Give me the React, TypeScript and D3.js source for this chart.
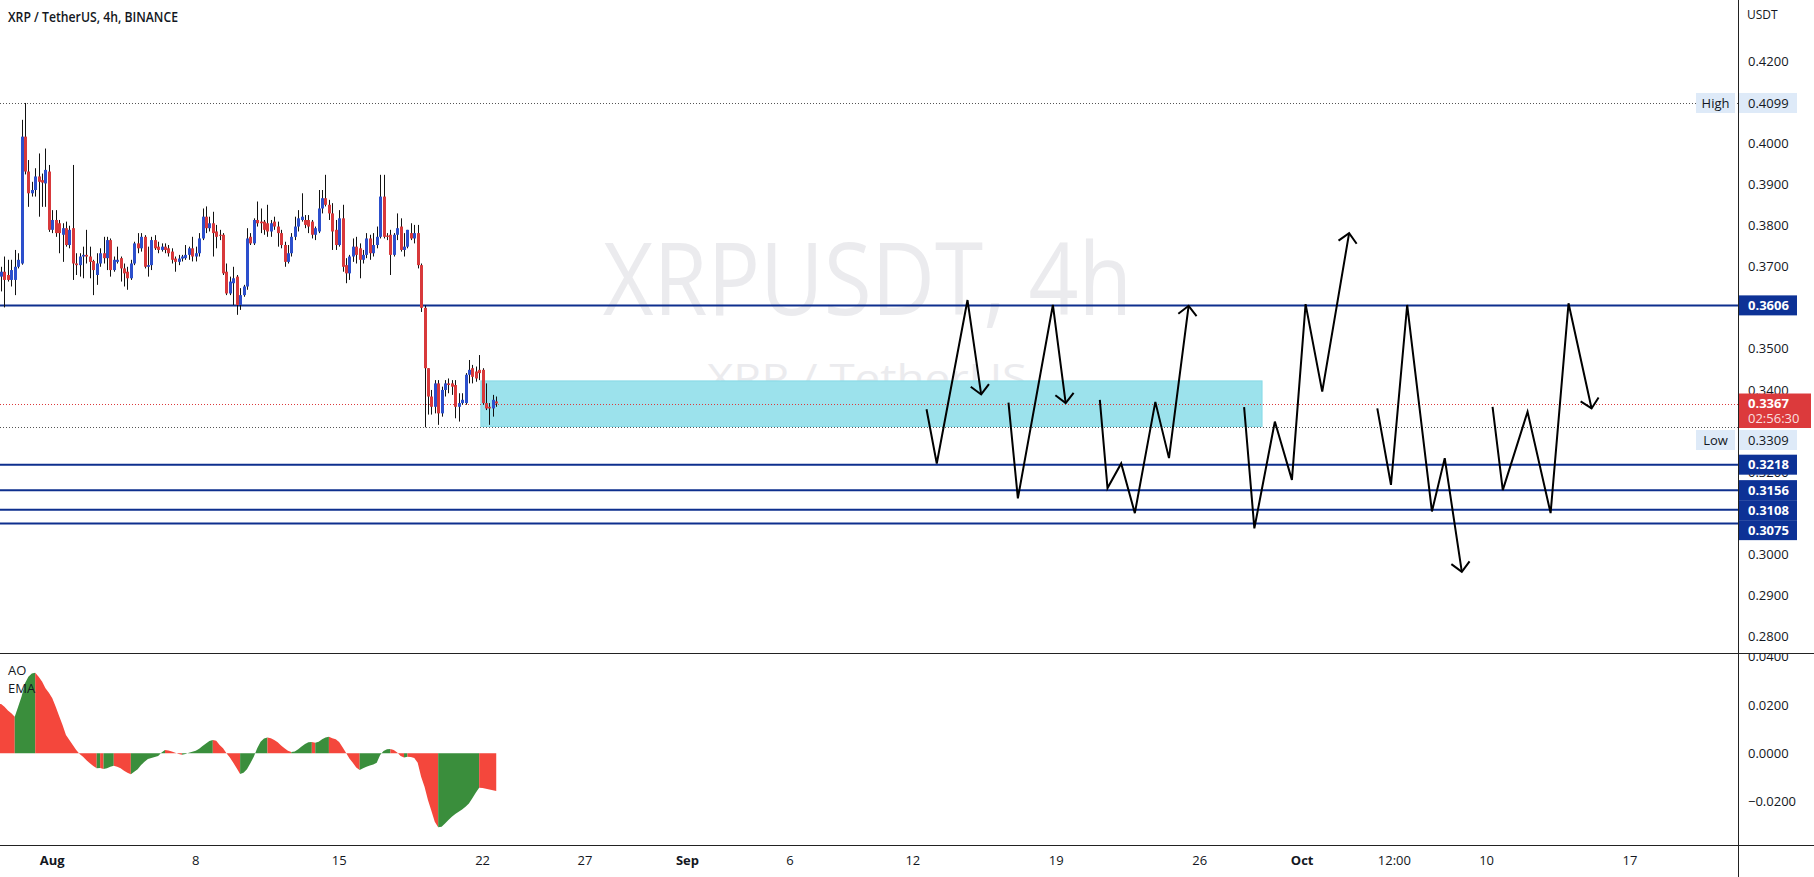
import * as d3 from 'd3';

const W = 1814;
const H = 877;
const AXIS_X = 1738;
const MAIN_BOTTOM = 653;
const AO_BOTTOM = 845;
const FONT = '"Open Sans", "Noto Sans", sans-serif';

const UP = '#2c4fcc';
const DOWN = '#d8393b';
const LEVEL = '#0e2f8e';
const LABEL_BLUE = '#0d3296';
const LAST_RED = '#dc3a3c';
const TAG_BG = '#deeaf8';
const AO_UP = '#3a8e3c';
const AO_DOWN = '#f4473c';
const TEXT = '#131722';

// 4h candles, first one opens 29 Jul 2022 12:00 UTC
const CANDLE_START = Date.UTC(2022, 6, 29, 12);
const CANDLE_STEP = 4 * 3600 * 1000;

// [open, high, low, close]
const candles: [number, number, number, number][] = [
  [0.3676, 0.37, 0.364, 0.3688], [0.3688, 0.3725, 0.3601, 0.3668], [0.368, 0.3717, 0.3664, 0.3668],
  [0.3668, 0.3717, 0.3652, 0.3692], [0.3668, 0.3741, 0.3631, 0.37], [0.37, 0.3733, 0.3696, 0.3717],
  [0.3708, 0.4058, 0.3705, 0.4017], [0.4017, 0.4099, 0.3925, 0.3932], [0.3932, 0.396, 0.3846, 0.3879],
  [0.3879, 0.3907, 0.3871, 0.3887], [0.3887, 0.394, 0.3871, 0.392], [0.392, 0.3976, 0.3822, 0.3907],
  [0.3911, 0.3927, 0.3846, 0.3905], [0.3903, 0.3988, 0.3846, 0.3936], [0.3932, 0.3948, 0.3785, 0.379],
  [0.379, 0.3838, 0.3782, 0.3814], [0.3814, 0.3838, 0.3773, 0.3782], [0.3806, 0.3814, 0.3733, 0.3782],
  [0.3778, 0.3806, 0.3712, 0.3794], [0.3794, 0.381, 0.3749, 0.3753], [0.3753, 0.38, 0.3745, 0.379],
  [0.3794, 0.3948, 0.3668, 0.3708], [0.3708, 0.3733, 0.368, 0.3704], [0.3704, 0.3733, 0.3676, 0.3725],
  [0.3725, 0.3749, 0.3672, 0.3729], [0.3729, 0.379, 0.3708, 0.3725], [0.3725, 0.3749, 0.3672, 0.3712],
  [0.3714, 0.3717, 0.3631, 0.3692], [0.368, 0.3733, 0.3656, 0.3708], [0.3708, 0.3745, 0.37, 0.3733],
  [0.3733, 0.3773, 0.3708, 0.3721], [0.3721, 0.3773, 0.3692, 0.3765], [0.3765, 0.3769, 0.3676, 0.3692],
  [0.3692, 0.3725, 0.3688, 0.3717], [0.3712, 0.3749, 0.3708, 0.3717], [0.3721, 0.3725, 0.3664, 0.3696],
  [0.3696, 0.3708, 0.3652, 0.3684], [0.3688, 0.37, 0.3644, 0.3672], [0.3672, 0.3717, 0.3668, 0.3708],
  [0.3708, 0.3761, 0.3704, 0.3757], [0.3757, 0.3782, 0.3733, 0.3745], [0.3745, 0.3782, 0.3737, 0.3773],
  [0.3773, 0.3777, 0.3696, 0.37], [0.37, 0.3749, 0.3676, 0.3704], [0.3704, 0.3773, 0.3692, 0.3765],
  [0.3765, 0.3777, 0.3741, 0.3745], [0.3749, 0.3761, 0.3733, 0.3741], [0.3741, 0.3757, 0.3737, 0.3749],
  [0.3749, 0.3757, 0.3733, 0.3741], [0.3745, 0.3753, 0.3725, 0.3733], [0.3737, 0.3745, 0.3708, 0.3717],
  [0.372, 0.3725, 0.3688, 0.3712], [0.3712, 0.3729, 0.3704, 0.372], [0.372, 0.3729, 0.3713, 0.3725],
  [0.3721, 0.3753, 0.3717, 0.3729], [0.3729, 0.3749, 0.3717, 0.3745], [0.3745, 0.3773, 0.3713, 0.3725],
  [0.3725, 0.3749, 0.3713, 0.3733], [0.3733, 0.3782, 0.3725, 0.3769], [0.3769, 0.3842, 0.3765, 0.3822],
  [0.3822, 0.3847, 0.3782, 0.3794], [0.3794, 0.3822, 0.3786, 0.3806], [0.3806, 0.3834, 0.3725, 0.3782],
  [0.3786, 0.3802, 0.3745, 0.3773], [0.3778, 0.379, 0.3765, 0.3776], [0.3778, 0.3782, 0.368, 0.3684],
  [0.3688, 0.3708, 0.3631, 0.3635], [0.3635, 0.3676, 0.3631, 0.3664], [0.366, 0.37, 0.3607, 0.3672],
  [0.3676, 0.368, 0.3583, 0.3607], [0.3607, 0.3648, 0.3595, 0.3631], [0.3631, 0.3656, 0.3627, 0.3652],
  [0.3652, 0.3794, 0.3644, 0.3769], [0.3773, 0.3782, 0.3753, 0.3757], [0.3757, 0.3818, 0.3753, 0.3814],
  [0.3814, 0.3859, 0.3798, 0.3806], [0.381, 0.3842, 0.3782, 0.3806], [0.381, 0.3814, 0.3778, 0.379],
  [0.3806, 0.3851, 0.3773, 0.3786], [0.3786, 0.3814, 0.3773, 0.3806], [0.381, 0.3822, 0.379, 0.3798],
  [0.3798, 0.381, 0.3749, 0.3782], [0.3782, 0.379, 0.3745, 0.3753], [0.3753, 0.3761, 0.37, 0.3712],
  [0.3712, 0.3753, 0.3708, 0.3733], [0.3733, 0.3782, 0.3725, 0.3773], [0.3773, 0.3822, 0.3765, 0.3798],
  [0.3798, 0.3838, 0.3786, 0.3818], [0.3814, 0.3879, 0.381, 0.3822], [0.3814, 0.3826, 0.3794, 0.3802],
  [0.3814, 0.3826, 0.3782, 0.3798], [0.381, 0.3814, 0.3769, 0.3778], [0.3778, 0.3798, 0.3765, 0.3794],
  [0.3786, 0.3887, 0.3782, 0.3842], [0.3842, 0.3887, 0.383, 0.3867], [0.3867, 0.3924, 0.3847, 0.3851],
  [0.3851, 0.3863, 0.3814, 0.383], [0.383, 0.3855, 0.3741, 0.3786], [0.379, 0.3814, 0.3741, 0.3753],
  [0.3753, 0.3838, 0.3749, 0.3818], [0.3818, 0.3851, 0.3688, 0.37], [0.3704, 0.3721, 0.366, 0.3684],
  [0.3684, 0.3729, 0.3668, 0.3725], [0.3725, 0.3769, 0.3712, 0.3749], [0.3749, 0.3773, 0.3708, 0.3729],
  [0.3745, 0.3757, 0.3672, 0.3717], [0.3717, 0.3741, 0.3708, 0.3729], [0.3729, 0.3782, 0.3721, 0.3769],
  [0.3769, 0.3778, 0.3717, 0.3733], [0.3733, 0.3782, 0.3725, 0.3753], [0.3753, 0.3798, 0.3745, 0.3773],
  [0.3773, 0.3924, 0.3769, 0.3871], [0.3871, 0.3924, 0.3769, 0.3773], [0.3776, 0.3782, 0.3765, 0.3773],
  [0.3778, 0.379, 0.368, 0.3729], [0.3729, 0.3782, 0.3725, 0.3778], [0.3778, 0.383, 0.3765, 0.3794],
  [0.3798, 0.3818, 0.3737, 0.3741], [0.3741, 0.3782, 0.3725, 0.3749], [0.3749, 0.379, 0.3745, 0.379],
  [0.3782, 0.3806, 0.3765, 0.3769], [0.3769, 0.3802, 0.3757, 0.3782], [0.3782, 0.3802, 0.3696, 0.3704],
  [0.3704, 0.3708, 0.359, 0.36], [0.36, 0.3606, 0.3309, 0.3453], [0.3453, 0.3453, 0.334, 0.3384],
  [0.3384, 0.34, 0.334, 0.3359], [0.3359, 0.3424, 0.3343, 0.3416], [0.3416, 0.3424, 0.3315, 0.3343],
  [0.3343, 0.3408, 0.3335, 0.34], [0.34, 0.3424, 0.3384, 0.3416], [0.3416, 0.3428, 0.3392, 0.3412],
  [0.3416, 0.3424, 0.3388, 0.3408], [0.3412, 0.3424, 0.3331, 0.3359], [0.3359, 0.3392, 0.3323, 0.3368],
  [0.3368, 0.3392, 0.3364, 0.3376], [0.3368, 0.3441, 0.3364, 0.3437], [0.3437, 0.3473, 0.3416, 0.3449],
  [0.3453, 0.3461, 0.3416, 0.3432], [0.3445, 0.3457, 0.342, 0.3428], [0.3449, 0.3485, 0.3424, 0.3441],
  [0.3449, 0.3453, 0.3364, 0.3368], [0.3368, 0.3416, 0.3351, 0.3355], [0.3359, 0.3368, 0.3315, 0.3355],
  [0.3355, 0.3388, 0.3335, 0.3376], [0.3372, 0.3384, 0.3359, 0.3367],
];

// Awesome Oscillator, one value per candle
const aoValues = [
  0.0204, 0.0193, 0.0177, 0.0166, 0.0152, 0.0193, 0.0235, 0.029, 0.0317, 0.0331,
  0.0334, 0.0317, 0.0297, 0.0269, 0.0251, 0.0228, 0.0193, 0.0155, 0.0117, 0.0076,
  0.0055, 0.0035, 0.0014, -0.0003, -0.0014, -0.0028, -0.0041, -0.0052, -0.0062, -0.0061,
  -0.0065, -0.0062, -0.0055, -0.0051, -0.0055, -0.0062, -0.0072, -0.008, -0.0086, -0.0076,
  -0.0066, -0.0048, -0.0035, -0.0023, -0.0019, -0.0015, -0.0011, 0.0004, 0.0014, 0.0012,
  0.0008, 0.0003, -0.0003, -0.0006, -0.0003, 0.0003, 0.0007, 0.0011, 0.0019, 0.003,
  0.0041, 0.0051, 0.0055, 0.0052, 0.0035, 0.0021, 0.0, -0.0017, -0.0039, -0.0062,
  -0.0085, -0.008, -0.0066, -0.0041, -0.0014, 0.0021, 0.0048, 0.0062, 0.0066, 0.0063,
  0.0055, 0.0046, 0.0033, 0.0021, 0.0011, 0.0006, 0.0008, 0.0017, 0.0028, 0.0039,
  0.0046, 0.0047, 0.0044, 0.0048, 0.0058, 0.0066, 0.0069, 0.0063, 0.0058, 0.0047,
  0.0025, 0.0003, -0.0021, -0.0039, -0.0058, -0.0069, -0.0062, -0.0055, -0.005, -0.0046,
  -0.0039, -0.0007, 0.001, 0.0017, 0.0018, 0.0014, 0.0004, -0.0011, -0.0017, -0.0014,
  -0.0015, -0.0019, -0.0039, -0.0097, -0.0138, -0.0193, -0.0237, -0.0283, -0.0306, -0.0304,
  -0.029, -0.0276, -0.0262, -0.0251, -0.0242, -0.0232, -0.0221, -0.0207, -0.0186, -0.0163,
  -0.0142, -0.0143, -0.0146, -0.0149, -0.0153, -0.0156,
];

// price ticks whose text is left visible (the rest sit fully under the scale tags)
const priceTicks = [0.28, 0.29, 0.3, 0.32, 0.34, 0.35, 0.37, 0.38, 0.39, 0.4, 0.42];
const aoTicks = [-0.02, 0, 0.02, 0.04];

const timeTickDates = [
  '2022-08-01T00:00', '2022-08-08T00:00', '2022-08-15T00:00', '2022-08-22T00:00', '2022-08-27T00:00',
  '2022-09-01T00:00', '2022-09-06T00:00', '2022-09-12T00:00', '2022-09-19T00:00', '2022-09-26T00:00',
  '2022-10-01T00:00', '2022-10-05T12:00', '2022-10-10T00:00', '2022-10-17T00:00',
];
const timeTickLabels = ['Aug', '8', '15', '22', '27', 'Sep', '6', '12', '19', '26', 'Oct', '12:00', '10', '17'];
const monthLabels = ['Aug', 'Sep', 'Oct'];

const levels = [0.3606, 0.3218, 0.3156, 0.3108, 0.3075];
const highPrice = 0.4099;
const lowPrice = 0.3309;
const lastPrice = 0.3367;
const countdown = '02:56:30';

const zoneStart = '2022-08-21T22:00';
const zoneEnd = '2022-09-29T01:00';
const zoneTop = 0.3422;
const zoneBottom = 0.3311;

// hand drawn projection paths, [time, price]; each ends in an arrow
const zigzags: [string, number][][] = [
  [['2022-09-12T16:00', 0.3353], ['2022-09-13T04:00', 0.3221], ['2022-09-14T16:00', 0.3619], ['2022-09-15T08:00', 0.3389]],
  [['2022-09-16T16:00', 0.3369], ['2022-09-17T03:00', 0.3136], ['2022-09-18T20:00', 0.3607], ['2022-09-19T11:00', 0.3368]],
  [['2022-09-21T03:00', 0.3376], ['2022-09-21T12:00', 0.3161], ['2022-09-22T04:00', 0.3221], ['2022-09-22T20:00', 0.31],
   ['2022-09-23T20:00', 0.3371], ['2022-09-24T12:00', 0.3234], ['2022-09-25T11:00', 0.3605]],
  [['2022-09-28T04:00', 0.3358], ['2022-09-28T16:00', 0.3063], ['2022-09-29T16:00', 0.3323], ['2022-09-30T12:00', 0.3181],
   ['2022-10-01T04:00', 0.3609], ['2022-10-01T23:30', 0.3396], ['2022-10-03T07:00', 0.3782]],
  [['2022-10-04T16:00', 0.3355], ['2022-10-05T08:00', 0.3169], ['2022-10-06T03:00', 0.3607], ['2022-10-07T08:00', 0.3104],
   ['2022-10-07T23:00', 0.3234], ['2022-10-08T19:00', 0.2957]],
  [['2022-10-10T07:00', 0.3359], ['2022-10-10T19:00', 0.3156], ['2022-10-12T00:00', 0.3347], ['2022-10-13T03:00', 0.31],
   ['2022-10-14T00:00', 0.3611], ['2022-10-15T03:00', 0.3355]],
];

const utc = (s: string) => new Date(s + 'Z');
const fmt = d3.format('.4f');

interface AxisTag {
  price: number;
  text: string;
  fill: string;
  color: string;
  bold: boolean;
  above: number;
  below: number;
  width: number;
  gapAfter: number;
  side?: string;
  sub?: string;
}

export default function App() {
  const x = d3.scaleUtc()
    .domain([new Date(Date.UTC(2022, 7, 1)), new Date(Date.UTC(2022, 9, 17))])
    .range([52.3, 1630]);
  const y = d3.scaleLinear().domain([0.28, 0.42]).range([636.3, 61.5]);
  const yAo = d3.scaleLinear().domain([-0.02, 0.04]).range([801.7, 656.7]);

  const candleX = (i: number) => x(new Date(CANDLE_START + i * CANDLE_STEP));

  // AO area: consecutive bars with the same colour are merged into one polygon
  const ao0 = yAo(0);
  const aoRuns: { fill: string; pts: [number, number][] }[] = [];
  aoValues.forEach((v, i) => {
    const up = i > 0 && v >= aoValues[i - 1];
    const fill = up ? AO_UP : AO_DOWN;
    const last = aoRuns[aoRuns.length - 1];
    if (last && last.fill === fill) {
      last.pts.push([candleX(i), yAo(v)]);
    } else {
      const start: [number, number] = i === 0 ? [0, yAo(v)] : [candleX(i - 1), yAo(aoValues[i - 1])];
      aoRuns.push({ fill, pts: [start, [candleX(i), yAo(v)]] });
    }
  });
  const runPath = (pts: [number, number][]) => {
    const a = pts[0][0];
    const b = pts[pts.length - 1][0];
    return `M${a},${ao0}` + pts.map(p => `L${p[0]},${p[1]}`).join('') + `L${b},${ao0}Z`;
  };

  // price-scale tags, stacked so they never overlap
  const tags: AxisTag[] = [
    { price: highPrice, text: fmt(highPrice), fill: TAG_BG, color: TEXT, bold: false, above: 10, below: 10, width: 58, gapAfter: 0, side: 'High' },
    ...levels.map(p => ({ price: p, text: fmt(p), fill: LABEL_BLUE, color: '#fff', bold: true, above: 10, below: 10, width: 58, gapAfter: 0 })),
    { price: lastPrice, text: fmt(lastPrice), fill: LAST_RED, color: '#fff', bold: true, above: 10, below: 24.5, width: 72, gapAfter: 2, sub: countdown },
    { price: lowPrice, text: fmt(lowPrice), fill: TAG_BG, color: TEXT, bold: false, above: 10, below: 10, width: 58, gapAfter: 0, side: 'Low' },
  ].sort((a, b) => b.price - a.price);
  let lastBottom = -Infinity;
  const placed = tags.map(t => {
    const top = Math.max(y(t.price) - t.above, lastBottom);
    lastBottom = top + t.above + t.below + t.gapAfter;
    return { ...t, top, center: top + t.above };
  });

  const arrowHead = (pts: [number, number][]) => {
    const [ax, ay] = pts[pts.length - 2];
    const [bx, by] = pts[pts.length - 1];
    const ang = Math.atan2(by - ay, bx - ax) + Math.PI;
    const len = 13;
    const spread = Math.PI / 4;
    const w1 = [bx + len * Math.cos(ang - spread), by + len * Math.sin(ang - spread)];
    const w2 = [bx + len * Math.cos(ang + spread), by + len * Math.sin(ang + spread)];
    return `M${w1[0]},${w1[1]}L${bx},${by}L${w2[0]},${w2[1]}`;
  };

  const line = d3.line<[number, number]>();

  return (
    <svg width={W} height={H} style={{ position: 'fixed', left: 0, top: 0, background: '#fff' }} fontFamily={FONT}>
      <defs>
        <clipPath id="mainClip"><rect x={0} y={0} width={AXIS_X} height={MAIN_BOTTOM} /></clipPath>
        <clipPath id="aoClip"><rect x={0} y={MAIN_BOTTOM + 1} width={W} height={AO_BOTTOM - MAIN_BOTTOM - 1} /></clipPath>
      </defs>
      <rect x={0} y={0} width={W} height={H} fill="#fff" />

      <g clipPath="url(#mainClip)">
        {/* watermark */}
        <text x={867.5} y={315} textAnchor="middle" fontSize={100} fill="#ebebee" textLength={529} lengthAdjust="spacingAndGlyphs">XRPUSDT, 4h</text>
        <text x={867} y={392} textAnchor="middle" fontSize={39} fill="#ebebee" textLength={320} lengthAdjust="spacingAndGlyphs">XRP / TetherUS</text>

        {/* zone */}
        <rect x={x(utc(zoneStart))} width={x(utc(zoneEnd)) - x(utc(zoneStart))} y={y(zoneTop)} height={y(zoneBottom) - y(zoneTop)}
          fill="#9ce2ec" stroke="#86d9e6" strokeWidth={1} />

        {/* high / low / last lines */}
        <line x1={0} x2={AXIS_X} y1={Math.round(y(highPrice)) + 0.5} y2={Math.round(y(highPrice)) + 0.5} stroke="#555" strokeDasharray="1,2" />
        <line x1={0} x2={AXIS_X} y1={Math.round(y(lowPrice)) + 0.5} y2={Math.round(y(lowPrice)) + 0.5} stroke="#555" strokeDasharray="1,2" />
        <line x1={0} x2={AXIS_X} y1={Math.round(y(lastPrice)) + 0.5} y2={Math.round(y(lastPrice)) + 0.5} stroke={LAST_RED} strokeDasharray="1,2" />

        {/* levels */}
        {levels.map(p => (
          <line key={p} x1={0} x2={AXIS_X} y1={y(p)} y2={y(p)} stroke={LEVEL} strokeWidth={2} />
        ))}

        {/* candles */}
        {candles.map(([o, h, l, c], i) => {
          const px = Math.round(candleX(i));
          const top = y(Math.max(o, c));
          const bot = y(Math.min(o, c));
          return (
            <g key={i}>
              <line x1={px + 0.5} x2={px + 0.5} y1={y(h)} y2={y(l)} stroke="#111" strokeWidth={1} />
              <rect x={px - 1} width={3} y={top} height={Math.max(1, bot - top)} fill={c >= o ? UP : DOWN} />
            </g>
          );
        })}

        {/* projection paths */}
        {zigzags.map((z, k) => {
          const pts = z.map(([t, p]) => [x(utc(t)), y(p)] as [number, number]);
          return (
            <g key={k} fill="none" stroke="#000" strokeWidth={2}>
              <path d={line(pts) || ''} strokeLinejoin="miter" />
              <path d={arrowHead(pts)} />
            </g>
          );
        })}

        <text x={8} y={22} fontSize={14} fontWeight={600} fill={TEXT} textLength={170} lengthAdjust="spacingAndGlyphs">XRP / TetherUS, 4h, BINANCE</text>
      </g>

      {/* AO pane */}
      <g clipPath="url(#aoClip)">
        {aoRuns.map((r, i) => <path key={i} d={runPath(r.pts)} fill={r.fill} />)}
        <text x={8} y={675} fontSize={13} fill={TEXT}>AO</text>
        <text x={8} y={693} fontSize={13} fill={TEXT}>EMA</text>
        {aoTicks.map(t => (
          <text key={t} x={1748} y={yAo(t)} dy="0.35em" fontSize={13} fill={TEXT}>{fmt(t).replace('-', '\u2212')}</text>
        ))}
      </g>

      {/* price axis */}
      <text x={1747} y={19} fontSize={12} fill={TEXT}>USDT</text>
      {priceTicks.map(t => (
        <text key={t} x={1748} y={y(t)} dy="0.35em" fontSize={13} fill={TEXT}>{fmt(t)}</text>
      ))}
      {placed.map(t => (
        <g key={t.text}>
          <rect x={AXIS_X + 1} y={t.top} width={t.width} height={t.above + t.below} fill={t.fill} />
          <text x={1748} y={t.center} dy="0.35em" fontSize={13} fontWeight={t.bold ? 700 : 400} fill={t.color}>{t.text}</text>
          {t.sub && (
            <text x={1748} y={t.center + 15} dy="0.35em" fontSize={13} fill="#fff" fillOpacity={0.85}>{t.sub}</text>
          )}
          {t.side && (
            <g>
              <rect x={1696} y={t.top} width={39} height={t.above + t.below} fill={t.fill} />
              <text x={1715.5} y={t.center} dy="0.35em" textAnchor="middle" fontSize={13} fill={t.color}>{t.side}</text>
            </g>
          )}
        </g>
      ))}

      {/* frame */}
      <line x1={AXIS_X + 0.5} x2={AXIS_X + 0.5} y1={0} y2={H} stroke="#222" />
      <line x1={0} x2={W} y1={MAIN_BOTTOM + 0.5} y2={MAIN_BOTTOM + 0.5} stroke="#222" />
      <line x1={0} x2={W} y1={AO_BOTTOM + 0.5} y2={AO_BOTTOM + 0.5} stroke="#222" />

      {/* time axis */}
      {timeTickDates.map((d, i) => (
        <text key={d} x={x(utc(d))} y={865} textAnchor="middle" fontSize={13}
          fontWeight={monthLabels.includes(timeTickLabels[i]) ? 700 : 400} fill={TEXT}>
          {timeTickLabels[i]}
        </text>
      ))}
    </svg>
  );
}
